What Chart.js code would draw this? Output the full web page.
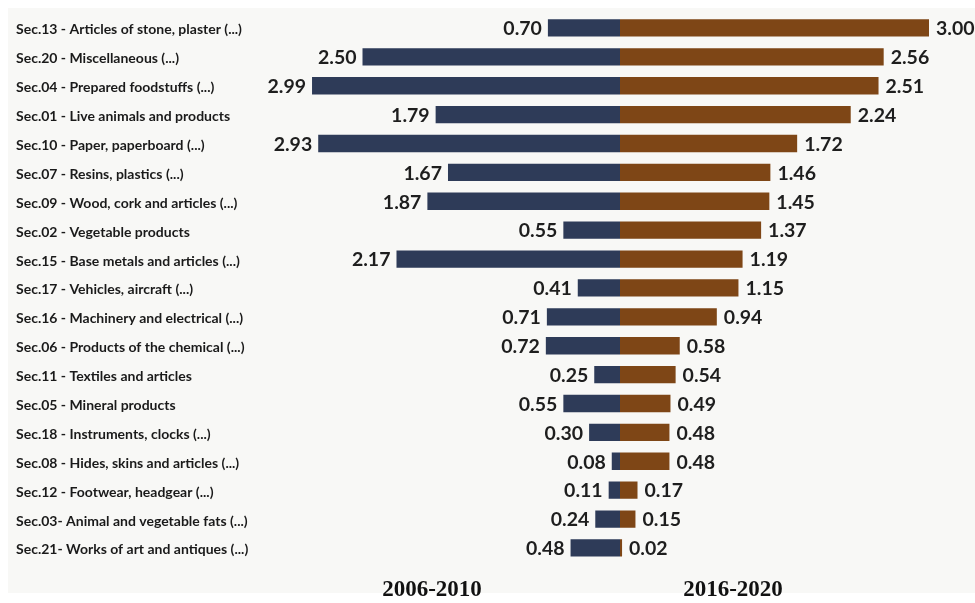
<!DOCTYPE html>
<html>
<head>
<meta charset="utf-8">
<script src="https://cdn.jsdelivr.net/npm/chart.js@4"></script>
<style>
    html, body { margin: 0; padding: 0; background: #ffffff; }
    #panel { position: absolute; left: 8px; top: 8px; width: 967px; height: 585px; background: #f8f8f6; }
    #wrap { position: absolute; left: 0; top: 0; width: 975px; height: 603px; }
</style>
</head>
<body>
<div id="panel"></div>
<div id="wrap"><canvas id="sectionsChart"></canvas></div>
<script>
const sections = [
    'Sec.13 - Articles of stone, plaster (...)',
    'Sec.20 - Miscellaneous (...)',
    'Sec.04 - Prepared foodstuffs (...)',
    'Sec.01 - Live animals and products',
    'Sec.10 - Paper, paperboard (...)',
    'Sec.07 - Resins, plastics (...)',
    'Sec.09 - Wood, cork and articles (...)',
    'Sec.02 - Vegetable products',
    'Sec.15 - Base metals and articles (...)',
    'Sec.17 - Vehicles, aircraft (...)',
    'Sec.16 - Machinery and electrical (...)',
    'Sec.06 - Products of the chemical (...)',
    'Sec.11 - Textiles and articles',
    'Sec.05 - Mineral products',
    'Sec.18 - Instruments, clocks (...)',
    'Sec.08 - Hides, skins and articles (...)',
    'Sec.12 - Footwear, headgear (...)',
    'Sec.03- Animal and vegetable fats (...)',
    'Sec.21- Works of art and antiques (...)'
];

const values2006 = [0.70, 2.50, 2.99, 1.79, 2.93, 1.67, 1.87, 0.55, 2.17, 0.41, 0.71, 0.72, 0.25, 0.55, 0.30, 0.08, 0.11, 0.24, 0.48];
const values2016 = [3.00, 2.56, 2.51, 2.24, 1.72, 1.46, 1.45, 1.37, 1.19, 1.15, 0.94, 0.58, 0.54, 0.49, 0.48, 0.48, 0.17, 0.15, 0.02];

const periodTitles = ['2006-2010', '2016-2020'];

// value labels next to each bar end
const valueLabels = {
    id: 'valueLabels',
    afterDatasetsDraw(chart) {
        const ctx = chart.ctx;
        ctx.save();
        ctx.font = 'bold 19.5px Lato';
        ctx.fillStyle = '#1e1e1e';
        ctx.textBaseline = 'middle';
        chart.data.datasets.forEach((ds, i) => {
            const meta = chart.getDatasetMeta(i);
            meta.data.forEach((bar, j) => {
                const raw = i === 0 ? values2006[j] : values2016[j];
                const text = raw.toFixed(2);
                if (i === 0) {
                    ctx.textAlign = 'right';
                    ctx.fillText(text, bar.x - 6, bar.y + 1);
                } else {
                    ctx.textAlign = 'left';
                    ctx.fillText(text, bar.x + 7, bar.y + 1);
                }
            });
        });
        ctx.restore();
    }
};

// period titles under each half
const periodTitlePlugin = {
    id: 'periodTitles',
    afterDraw(chart) {
        const ctx = chart.ctx;
        ctx.save();
        ctx.font = 'bold 23px "Liberation Serif"';
        ctx.fillStyle = '#111111';
        ctx.textAlign = 'center';
        ctx.textBaseline = 'alphabetic';
        ctx.fillText(periodTitles[0], 432, 596);
        ctx.fillText(periodTitles[1], 733, 596);
        ctx.restore();
    }
};

const ctx = document.getElementById('sectionsChart').getContext('2d');
const sectionsChart = new Chart(ctx, {
    type: 'bar',
    data: {
        labels: sections,
        datasets: [
            {
                label: periodTitles[0],
                data: values2006.map(v => -v),
                backgroundColor: '#2e3b58',
                borderWidth: 0
            },
            {
                label: periodTitles[1],
                data: values2016,
                backgroundColor: '#7e4616',
                borderWidth: 0
            }
        ]
    },
    options: {
        indexAxis: 'y',
        responsive: true,
        maintainAspectRatio: false,
        animation: false,
        layout: {
            padding: { left: 16, right: 4.8, top: 13.5, bottom: 40.6 }
        },
        datasets: {
            bar: {
                categoryPercentage: 1,
                barPercentage: 0.6
            }
        },
        scales: {
            x: {
                display: false,
                stacked: true,
                min: -3.4,
                max: 3.4
            },
            y: {
                stacked: true,
                grid: { display: false },
                border: { display: false },
                afterFit: (scale) => { scale.width = 253.8; },
                ticks: {
                    crossAlign: 'far',
                    color: '#1a1a1a',
                    padding: 0,
                    labelOffset: 2,
                    font: { family: 'Lato', weight: 'bold', size: 14 }
                }
            }
        },
        plugins: {
            legend: { display: false },
            tooltip: { enabled: false }
        }
    },
    plugins: [valueLabels, periodTitlePlugin]
});
</script>
</body>
</html>
